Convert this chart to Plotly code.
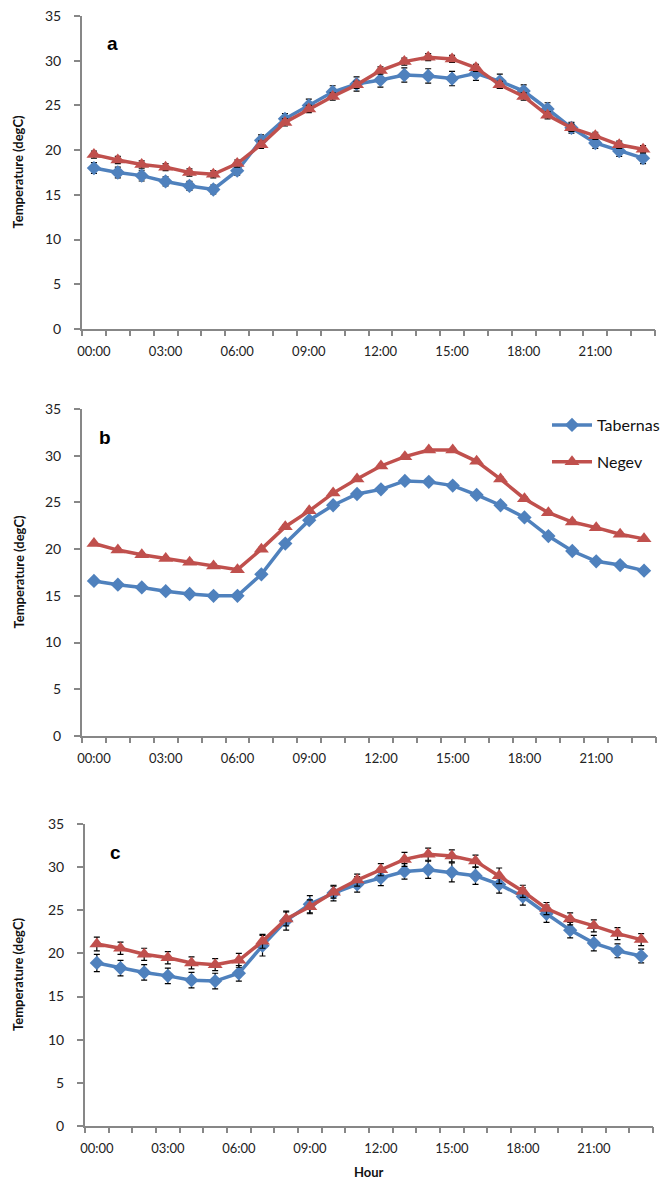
import plotly.graph_objects as go

hours = list(range(24))
hour_labels = ["00:00", "03:00", "06:00", "09:00", "12:00", "15:00", "18:00", "21:00"]
hour_label_pos = [0, 3, 6, 9, 12, 15, 18, 21]

# Panel a
a_tab = [18.0, 17.5, 17.15, 16.5, 16.0, 15.6, 17.7, 21.1, 23.5, 25.0, 26.5, 27.4,
         27.85, 28.4, 28.3, 28.0, 28.6, 27.7, 26.6, 24.6, 22.5, 20.8, 19.9, 19.1]
a_tab_err = [0.6, 0.6, 0.6, 0.5, 0.5, 0.5, 0.5, 0.6, 0.6, 0.7, 0.7, 0.8,
             0.8, 0.8, 0.8, 0.8, 0.8, 0.8, 0.7, 0.7, 0.6, 0.6, 0.6, 0.6]
a_neg = [19.5, 18.9, 18.4, 18.1, 17.5, 17.3, 18.5, 20.6, 23.1, 24.6, 26.0, 27.3,
         28.9, 29.9, 30.4, 30.2, 29.2, 27.3, 26.0, 23.9, 22.5, 21.6, 20.6, 20.1]
a_neg_err = [0.4] * 24

# Panel b
b_tab = [16.6, 16.2, 15.9, 15.5, 15.2, 15.0, 15.0, 17.3, 20.6, 23.1, 24.7, 25.9,
         26.4, 27.3, 27.2, 26.8, 25.8, 24.7, 23.4, 21.4, 19.8, 18.7, 18.3, 17.7]
b_tab_err = [0.3] * 24
b_neg = [20.6, 19.9, 19.4, 19.0, 18.6, 18.2, 17.8, 20.0, 22.4, 24.1, 26.0, 27.5,
         28.9, 29.9, 30.6, 30.6, 29.4, 27.5, 25.4, 23.9, 22.9, 22.3, 21.6, 21.1]
b_neg_err = [0.2] * 24

# Panel c
c_tab = [18.9, 18.3, 17.8, 17.4, 16.9, 16.8, 17.7, 20.9, 23.8, 25.7, 27.0, 28.0,
         28.75, 29.5, 29.7, 29.4, 29.0, 28.0, 26.6, 24.6, 22.7, 21.2, 20.3, 19.7]
c_tab_err = [1.0, 0.9, 0.9, 0.9, 0.9, 0.9, 0.9, 1.2, 1.1, 1.0, 0.9, 0.9,
             0.9, 0.9, 1.0, 1.1, 1.0, 1.0, 1.0, 1.0, 0.9, 0.9, 0.8, 0.8]
c_neg = [21.1, 20.6, 19.9, 19.5, 18.9, 18.7, 19.2, 21.4, 24.0, 25.4, 27.1, 28.5,
         29.7, 30.9, 31.5, 31.3, 30.7, 29.0, 27.2, 25.2, 24.0, 23.2, 22.3, 21.6]
c_neg_err = [0.8, 0.7, 0.7, 0.7, 0.7, 0.7, 0.8, 0.8, 0.8, 0.8, 0.7, 0.7,
             0.7, 0.8, 0.7, 0.7, 0.7, 0.9, 0.7, 0.7, 0.7, 0.7, 0.7, 0.7]

panels = [("a", a_tab, a_tab_err, a_neg, a_neg_err),
          ("b", b_tab, b_tab_err, b_neg, b_neg_err),
          ("c", c_tab, c_tab_err, c_neg, c_neg_err)]

BLUE = "#4F81BD"
RED = "#C0504D"
AXIS = "#878787"
FONT = "Lato"

H = 1182.0
W = 665.0
# pixel extents of each plot area (top, bottom, left, right)
areas = [(16, 329, 82, 655), (409, 736, 82, 656), (824, 1126, 85, 653)]

fig = go.Figure()
layout = dict(
    width=665, height=1182,
    margin=dict(l=0, r=0, t=0, b=0, autoexpand=False),
    paper_bgcolor="white", plot_bgcolor="white",
    font=dict(family=FONT, size=13, color="#222222"),
    showlegend=True,
    legend=dict(x=547 / W, y=1 - 408 / H, xanchor="left", yanchor="top",
                bgcolor="rgba(0,0,0,0)", font=dict(family=FONT, size=16, color="#111111"),
                tracegroupgap=13, itemwidth=40),
    annotations=[],
)

for i, (letter, tab, tab_err, neg, neg_err) in enumerate(panels):
    top, bot, left, right = areas[i]
    xd = [left / W, right / W]
    yd = [1 - bot / H, 1 - top / H]
    xa = "x" if i == 0 else f"x{i + 1}"
    ya = "y" if i == 0 else f"y{i + 1}"
    xk = "xaxis" if i == 0 else f"xaxis{i + 1}"
    yk = "yaxis" if i == 0 else f"yaxis{i + 1}"
    tick_ax_n = 4 + i
    layout[xk] = dict(domain=xd, range=[-0.5, 23.5], anchor=ya, automargin=False,
                      tickmode="array", tickvals=hour_label_pos, ticktext=hour_labels,
                      ticks="", showline=True, linecolor=AXIS, linewidth=2,
                      showgrid=False, zeroline=False,
                      tickfont=dict(family=FONT, size=13, color="#222222"), ticklabelstandoff=9)
    layout[f"xaxis{tick_ax_n}"] = dict(domain=xd, range=[-0.5, 23.5], overlaying=xa, anchor=ya,
                                       automargin=False,
                                       tickmode="linear", tick0=-0.5, dtick=1,
                                       ticks="outside", ticklen=6, tickwidth=2, tickcolor=AXIS,
                                       showticklabels=False, showgrid=False, zeroline=False,
                                       showline=False)
    layout[yk] = dict(domain=yd, range=[0, 35], anchor=xa, automargin=False,
                      tickmode="linear", tick0=0, dtick=5,
                      ticks="outside", ticklen=6, tickwidth=2, tickcolor=AXIS,
                      showline=True, linecolor=AXIS, linewidth=2,
                      showgrid=False, zeroline=False, ticklabelstandoff=10,
                      tickfont=dict(family=FONT, size=14, color="#222222"))
    fig.add_trace(go.Scatter(
        x=hours, y=tab, name="Tabernas", mode="lines+markers", xaxis=xa, yaxis=ya,
        line=dict(color=BLUE, width=3.5),
        marker=dict(symbol="diamond", size=11, color=BLUE),
        error_y=dict(type="data", array=tab_err, visible=True, color="black", thickness=1.2, width=3),
        showlegend=(i == 1), legendgroup="tab"))
    fig.add_trace(go.Scatter(
        x=hours, y=neg, name="Negev", mode="lines+markers", xaxis=xa, yaxis=ya,
        line=dict(color=RED, width=3.5),
        marker=dict(symbol="triangle-up", size=13, color=RED),
        error_y=dict(type="data", array=neg_err, visible=True, color="black", thickness=1.2, width=3),
        showlegend=(i == 1), legendgroup="neg"))
    # invisible trace to activate tick axis
    fig.add_trace(go.Scatter(x=[hours[0]], y=[tab[0]], xaxis=f"x{tick_ax_n}", yaxis=ya,
                             mode="markers", marker=dict(opacity=0), showlegend=False,
                             hoverinfo="skip"))
    layout["annotations"].append(dict(
        text=f"<b>{letter}</b>", xref="paper", yref="paper",
        x=(left + (30 if letter != "b" else 23)) / W, y=1 - (top + 28) / H,
        xanchor="center", yanchor="middle", showarrow=False,
        font=dict(family="Liberation Sans", size=19, color="black")))
    layout["annotations"].append(dict(
        text="<b>Temperature (degC)</b>", xref="paper", yref="paper",
        x=18 / W, y=1 - (top + bot) / 2 / H, textangle=-90,
        xanchor="center", yanchor="middle", showarrow=False,
        font=dict(family=FONT, size=13, color="#111111")))

layout["annotations"].append(dict(
    text="<b>Hour</b>", xref="x3 domain", yref="paper", x=0.5, y=1 - 1172 / H,
    xanchor="center", yanchor="middle", showarrow=False,
    font=dict(family=FONT, size=13, color="#111111")))

fig.update_layout(**layout)
fig.write_html("out.html", config={"displayModeBar": False},
               post_script="document.body.style.margin='0px';document.body.style.overflow='hidden';")
